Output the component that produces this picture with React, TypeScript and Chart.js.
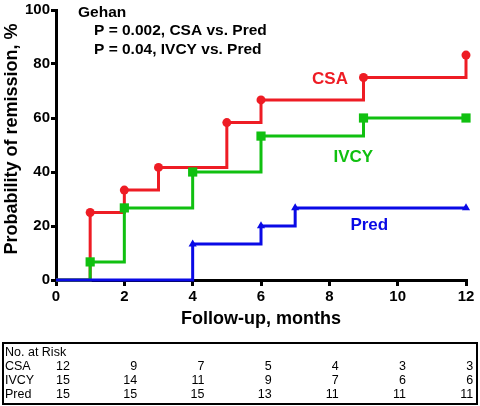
import React, { useEffect, useRef } from "react";
import { Chart, registerables } from "chart.js";

Chart.register(...registerables);

// ---- data ----
const csaMonths = [0, 1, 2, 3, 5, 6, 9, 12];
const csaValues = [0, 25, 33.3, 41.7, 58.3, 66.7, 75, 83.3];
const ivcyMonths = [0, 1, 2, 4, 6, 9, 12];
const ivcyValues = [0, 6.7, 26.7, 40, 53.3, 60, 60];
const predMonths = [0, 4, 6, 7, 12];
const predValues = [0, 13.3, 20, 26.7, 26.7];

const riskGroups = ["CSA", "IVCY", "Pred"];
const riskCSA = [12, 9, 7, 5, 4, 3, 3];
const riskIVCY = [15, 14, 11, 9, 7, 6, 6];
const riskPred = [15, 15, 15, 13, 11, 11, 11];

const statTitle = "Gehan";
const statLines = ["P = 0.002, CSA vs. Pred", "P = 0.04, IVCY vs. Pred"];
const yTitle = "Probability of remission, %";

const RED = "#ee1c24";
const GREEN = "#10c010";
const BLUE = "#0a0ae6";
const FONT = "Arial, 'Liberation Sans', sans-serif";

const toPts = (xs: number[], ys: number[]) => xs.map((x, i) => ({ x, y: ys[i] }));
const radii = (n: number, r: number) => Array.from({ length: n }, (_, i) => (i === 0 ? 0 : r));

const annotationPlugin = {
  id: "annotations",
  afterDraw(chart: any) {
    const ctx = chart.ctx;
    const xs = chart.scales.x;
    const ys = chart.scales.y;
    ctx.save();
    // y axis title
    ctx.save();
    ctx.translate(12, 139);
    ctx.rotate(-Math.PI / 2);
    ctx.fillStyle = "#000";
    ctx.font = `bold 18px ${FONT}`;
    ctx.textAlign = "center";
    ctx.textBaseline = "middle";
    ctx.fillText(yTitle, 0, 0);
    ctx.restore();

    // stats text
    ctx.fillStyle = "#000";
    ctx.textBaseline = "middle";
    ctx.textAlign = "left";
    ctx.font = `bold 15.5px ${FONT}`;
    ctx.fillText(statTitle, 78, 13);
    ctx.fillText(statLines[0], 94, 31);
    ctx.fillText(statLines[1], 94, 50);

    // series labels
    ctx.font = `bold 17px ${FONT}`;
    ctx.textAlign = "center";
    const labels = [
      { t: "CSA", x: 8.02, y: 74.5, c: RED },
      { t: "IVCY", x: 8.7, y: 45.4, c: GREEN },
      { t: "Pred", x: 9.17, y: 20.4, c: BLUE },
    ];
    labels.forEach((l) => {
      ctx.fillStyle = l.c;
      ctx.fillText(l.t, xs.getPixelForValue(l.x), ys.getPixelForValue(l.y));
    });

    // at-risk table
    ctx.strokeStyle = "#000";
    ctx.lineWidth = 2;
    ctx.strokeRect(3, 343, 474, 61);
    ctx.fillStyle = "#000";
    ctx.font = `12.5px ${FONT}`;
    ctx.textAlign = "left";
    ctx.fillText("No. at Risk", 5, 353);
    const rows = [riskCSA, riskIVCY, riskPred];
    rows.forEach((row, r) => {
      const y = 367 + r * 14;
      ctx.textAlign = "left";
      ctx.fillText(riskGroups[r], 5, y);
      ctx.textAlign = "right";
      row.forEach((v, i) => {
        ctx.fillText(String(v), 70 + i * 67.2, y);
      });
    });
    ctx.restore();
  },
};

export default function App() {
  const ref = useRef<HTMLCanvasElement | null>(null);

  useEffect(() => {
    document.body.style.margin = "0";
    const canvas = ref.current;
    if (!canvas) return;
    const common = {
      showLine: true,
      stepped: "before" as const,
      borderWidth: 3,
      pointBorderWidth: 0,
      clip: false as const,
      fill: false,
    };
    const chart = new Chart(canvas, {
      type: "scatter",
      data: {
        datasets: [
          {
            ...common,
            label: "Pred",
            data: toPts(predMonths, predValues),
            borderColor: BLUE,
            backgroundColor: BLUE,
            pointStyle: "triangle",
            pointRadius: radii(predMonths.length, 4.7),
          },
          {
            ...common,
            label: "IVCY",
            data: toPts(ivcyMonths, ivcyValues),
            borderColor: GREEN,
            backgroundColor: GREEN,
            pointStyle: "rect",
            pointRadius: radii(ivcyMonths.length, 6.5),
          },
          {
            ...common,
            label: "CSA",
            data: toPts(csaMonths, csaValues),
            borderColor: RED,
            backgroundColor: RED,
            pointStyle: "circle",
            pointRadius: radii(csaMonths.length, 4.5),
          },
        ],
      },
      options: {
        responsive: false,
        animation: false,
        layout: { padding: { left: 0, right: 14, top: 8, bottom: 76 } },
        plugins: {
          legend: { display: false },
          tooltip: { enabled: false },
        },
        scales: {
          x: {
            type: "linear",
            min: 0,
            max: 12,
            afterFit: (s: any) => {
              s.height = 50;
            },
            ticks: {
              stepSize: 2,
              color: "#000",
              padding: 2,
              font: { family: FONT, size: 15, weight: "bold" },
            },
            grid: {
              display: true,
              drawOnChartArea: false,
              drawTicks: true,
              tickLength: 6,
              color: "#000",
              lineWidth: 3,
            },
            border: { display: true, color: "#000", width: 3 },
            title: {
              display: true,
              text: "Follow-up, months",
              color: "#000",
              font: { family: FONT, size: 18, weight: "bold" },
              padding: { top: 0, bottom: 0 },
            },
          },
          y: {
            type: "linear",
            min: 0,
            max: 100,
            afterFit: (s: any) => {
              s.width = 56;
            },
            ticks: {
              stepSize: 20,
              color: "#000",
              padding: 1,
              font: { family: FONT, size: 15, weight: "bold" },
            },
            grid: {
              display: true,
              drawOnChartArea: false,
              drawTicks: true,
              tickLength: 5,
              color: "#000",
              lineWidth: 3,
            },
            border: { display: true, color: "#000", width: 3 },
            title: { display: false },
          },
        },
      },
      plugins: [annotationPlugin],
    });
    return () => chart.destroy();
  }, []);

  return (
    <div style={{ width: 480, height: 406, position: "relative", background: "#fff" }}>
      <canvas ref={ref} width={480} height={406} />
    </div>
  );
}
